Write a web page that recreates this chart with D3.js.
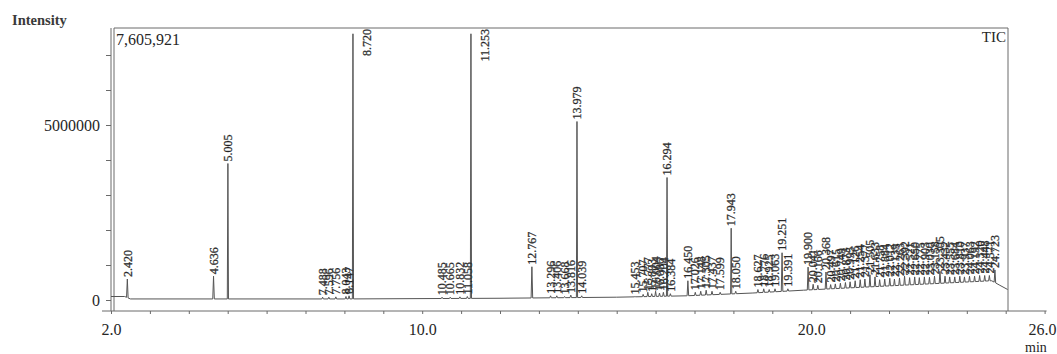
<!DOCTYPE html>
<html>
<head>
<meta charset="utf-8">
<script src="https://cdn.jsdelivr.net/npm/d3@7"></script>
<style>
    html, body { margin: 0; padding: 0; background: #fff; }
    svg { display: block; font-family: "Liberation Serif", "Times New Roman", serif; }
</style>
</head>
<body>
<svg id="chart" width="1057" height="354"></svg>
<script>
// peaks: retention time (min), top of the peak (counts), printed label
const peakTimes = [
    2.42, 4.636, 5.005,
    7.44, 7.60, 7.78, 8.04, 8.12, 8.22,
    10.51, 10.72, 10.97, 11.16, 11.253,
    12.82, 13.30, 13.46, 13.66, 13.82, 13.979, 14.10,
    15.47, 15.68, 15.80, 15.90, 16.00, 16.10, 16.20, 16.294, 16.38, 16.83,
    17.02, 17.16, 17.30, 17.45, 17.66, 17.943, 18.06,
    18.63, 18.78, 18.92, 19.07, 19.251, 19.40,
    19.92, 20.05, 20.17, 20.38, 20.50, 20.62, 20.75, 20.88, 21.00, 21.13,
    21.26, 21.38, 21.51, 21.64, 21.76, 21.89, 22.02, 22.14, 22.27, 22.40,
    22.53, 22.66, 22.78, 22.91, 23.04, 23.17, 23.31, 23.44, 23.56, 23.69,
    23.82, 23.94, 24.07, 24.20, 24.33, 24.46, 24.58, 24.723
];
const peakTops = [
    600000, 680000, 3900000,
    80000, 80000, 90000, 100000, 120000, 7605921,
    80000, 80000, 90000, 100000, 7605921,
    950000, 120000, 120000, 100000, 140000, 5100000, 120000,
    100000, 160000, 220000, 180000, 250000, 200000, 220000, 3500000, 180000, 550000,
    220000, 250000, 280000, 250000, 220000, 2050000, 250000,
    300000, 320000, 300000, 320000, 1350000, 320000,
    940000, 450000, 420000, 800000, 440000, 460000, 480000, 500000, 520000, 550000,
    580000, 600000, 720000, 660000, 580000, 600000, 620000, 600000, 630000, 680000,
    640000, 660000, 640000, 660000, 650000, 680000, 820000, 680000, 660000, 660000,
    680000, 660000, 680000, 680000, 700000, 700000, 700000, 860000
];
const peakLabels = [
    "2.420", "4.636", "5.005",
    "7.488", "7.596", "7.756", "8.043", "8.147", "8.720",
    "10.485", "10.665", "10.832", "11.058", "11.253",
    "12.767", "13.296", "13.406", "13.668", "13.816", "13.979", "14.039",
    "15.453", "15.707", "15.777", "15.893", "16.004", "16.086", "16.204", "16.294", "16.384", "16.450",
    "17.026", "17.148", "17.305", "17.437", "17.599", "17.943", "18.050",
    "18.627", "18.776", "18.925", "19.063", "19.251", "19.391",
    "19.900", "20.041", "20.166", "20.368", "20.497", "20.615", "20.749", "20.873", "20.995", "21.126",
    "21.254", "21.377", "21.505", "21.633", "21.758", "21.884", "22.012", "22.139", "22.263", "22.392",
    "22.521", "22.650", "22.775", "22.903", "23.030", "23.158", "23.305", "23.432", "23.555", "23.684",
    "23.810", "23.937", "24.063", "24.192", "24.320", "24.448", "24.571", "24.723"
];

// baseline drift of the trace
const baseTimes = [2.0, 2.35, 2.5, 8.0, 12.0, 15.0, 16.8, 18.5, 19.8, 21.95, 24.64, 24.85, 25.05];
const baseLevels = [100000, 100000, 30000, 30000, 50000, 80000, 120000, 200000, 280000, 400000, 550000, 420000, 300000];

const xTicks = d3.range(2, 27, 1);
const xLabelTicks = [2, 10, 20, 26];
const yTicks = d3.range(0, 8000000, 1000000);
const yLabelTicks = [0, 5000000];
const maxIntensity = 7605921;

const svg = d3.select('#chart');
const W = 1057;
const frame = { left: 114, right: 1008, top: 28, bottom: 311 };

const x = d3.scaleLinear().domain([2, 26]).range([111, 1044.6]);
const y = d3.scaleLinear().domain([0, 5000000]).range([300, 125]);
const baseAt = d3.scaleLinear().domain(baseTimes).range(baseLevels).clamp(true);

const lineColor = '#6a6a6a';
const textColor = '#262626';

// frame + axes lines
svg.append('line')
    .attr('x1', x(2)).attr('x2', x(2)).attr('y1', frame.top).attr('y2', frame.bottom)
    .attr('stroke', lineColor).attr('stroke-width', 1);
svg.append('path')
    .attr('d', `M${frame.left},${frame.bottom} V${frame.top} H${frame.right} V${frame.bottom}`)
    .attr('fill', 'none').attr('stroke', lineColor).attr('stroke-width', 1);
svg.append('line')
    .attr('x1', 102).attr('x2', x(26) + 2).attr('y1', frame.bottom).attr('y2', frame.bottom)
    .attr('stroke', lineColor).attr('stroke-width', 1);

// x axis
const xAxis = svg.append('g')
    .attr('transform', `translate(0,${frame.bottom})`)
    .call(d3.axisBottom(x)
        .tickValues(xTicks)
        .tickSize(3)
        .tickPadding(10)
        .tickFormat(d => xLabelTicks.includes(d) ? d3.format('.1f')(d) : ''));
xAxis.select('.domain').remove();
xAxis.selectAll('line').attr('stroke', lineColor);
xAxis.selectAll('text')
    .attr('font-family', '"Liberation Serif", serif')
    .attr('font-size', 16)
    .attr('fill', textColor);
// last label sits on the right edge of the picture
xAxis.selectAll('.tick')
    .filter(d => d === 26)
    .select('text')
    .attr('text-anchor', 'end')
    .attr('x', W - 1 - x(26));

// y axis
const yAxis = svg.append('g')
    .attr('transform', `translate(${x(2)},0)`)
    .call(d3.axisLeft(y)
        .tickValues(yTicks)
        .tickSize(5)
        .tickPadding(6)
        .tickFormat(d => yLabelTicks.includes(d) ? String(d) : ''));
yAxis.select('.domain').remove();
yAxis.selectAll('line').attr('stroke', lineColor);
yAxis.selectAll('text')
    .attr('font-family', '"Liberation Serif", serif')
    .attr('font-size', 16)
    .attr('fill', textColor);

// chromatogram trace
const pts = baseTimes.map((t, i) => [t, baseLevels[i]]);
peakTimes.forEach((t, i) => {
    const w = peakTops[i] > 2000000 ? 0.015 : 0.02;
    pts.push([t - w, baseAt(t - w)], [t, peakTops[i]], [t + w, baseAt(t + w)]);
});
pts.sort((a, b) => a[0] - b[0]);

svg.append('path')
    .datum(pts)
    .attr('d', d3.line().x(d => x(d[0])).y(d => y(d[1])))
    .attr('fill', 'none')
    .attr('stroke', '#555')
    .attr('stroke-width', 1);

// peak labels, full-scale peaks get theirs beside the line at the top
const isFull = i => y(peakTops[i]) < frame.top + 40;
svg.append('g')
    .selectAll('text')
    .data(peakTimes)
    .join('text')
    .attr('transform', (t, i) => isFull(i)
        ? `translate(${x(t) + 14},${frame.top + 1}) rotate(-90)`
        : `translate(${x(t)},${y(peakTops[i]) - 2}) rotate(-90)`)
    .attr('text-anchor', (t, i) => isFull(i) ? 'end' : 'start')
    .attr('dy', '0.35em')
    .attr('font-size', 12)
    .attr('fill', '#1e1e1e')
    .attr('stroke', '#444')
    .attr('stroke-width', 0.3)
    .text((t, i) => peakLabels[i]);

// titles
svg.append('text')
    .attr('x', 12).attr('y', 25)
    .attr('font-size', 14.5).attr('font-weight', 'bold')
    .attr('fill', '#3a3a3a')
    .text('Intensity');

svg.append('text')
    .attr('x', frame.left + 2).attr('y', 45)
    .attr('font-size', 16)
    .attr('fill', textColor)
    .text(d3.format(',')(maxIntensity));

svg.append('text')
    .attr('x', frame.right - 2).attr('y', 42)
    .attr('text-anchor', 'end')
    .attr('font-size', 15)
    .attr('fill', textColor)
    .text('TIC');

svg.append('text')
    .attr('x', 1025).attr('y', 352)
    .attr('font-size', 14)
    .attr('fill', textColor)
    .text('min');
</script>
</body>
</html>
